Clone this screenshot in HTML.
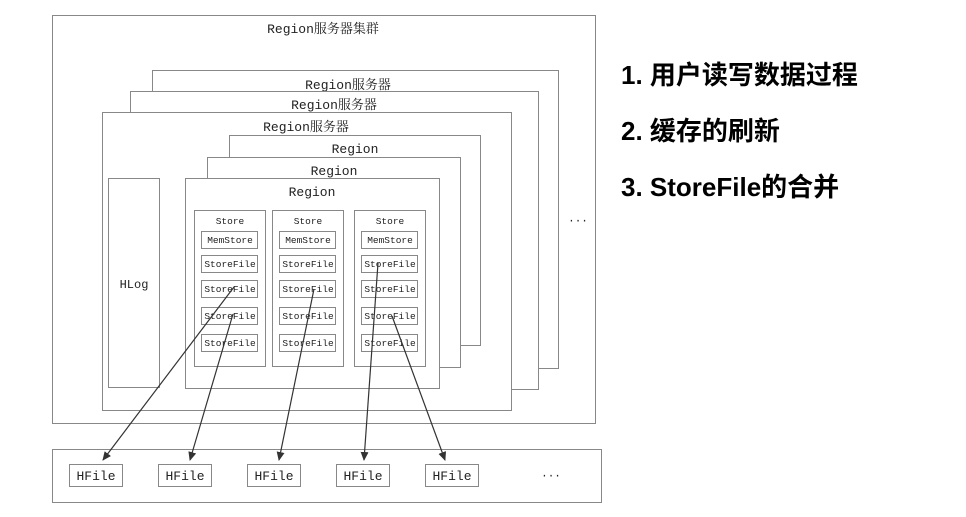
<!DOCTYPE html>
<html><head><meta charset="utf-8"><style>
html,body{margin:0;padding:0;background:#fff;width:966px;height:517px;overflow:hidden}
svg{display:block}
.d{font-family:"Liberation Mono","Noto Serif CJK SC",monospace;fill:#222}
.r{font-family:"Liberation Sans","Noto Sans CJK SC",sans-serif;font-weight:bold;font-size:26px;fill:#000}
rect{fill:#fff;stroke:#888;stroke-width:1}
.ln{stroke:#333;stroke-width:1.2;fill:none}
</style></head><body>
<svg width="966" height="517" viewBox="0 0 966 517" xmlns="http://www.w3.org/2000/svg">
<defs><marker id="a" markerWidth="10" markerHeight="10" refX="8" refY="4" orient="auto" markerUnits="userSpaceOnUse"><path d="M0,0 L9,4 L0,8 z" fill="#333"/></marker></defs>
<rect x="52.5" y="15.5" width="543" height="408"/>
<text class="d" x="323" y="33" font-size="13" text-anchor="middle">Region服务器集群</text>
<rect x="152.5" y="70.5" width="406" height="298"/>
<text class="d" x="348" y="89" font-size="13" text-anchor="middle">Region服务器</text>
<rect x="130.5" y="91.5" width="408" height="298"/>
<text class="d" x="334" y="109" font-size="13" text-anchor="middle">Region服务器</text>
<rect x="102.5" y="112.5" width="409" height="298"/>
<text class="d" x="306" y="131" font-size="13" text-anchor="middle">Region服务器</text>
<rect x="229.5" y="135.5" width="251" height="210"/>
<text class="d" x="355" y="153" font-size="13" text-anchor="middle">Region</text>
<rect x="207.5" y="157.5" width="253" height="210"/>
<text class="d" x="334" y="175" font-size="13" text-anchor="middle">Region</text>
<rect x="185.5" y="178.5" width="254" height="210"/>
<text class="d" x="312" y="196" font-size="13" text-anchor="middle">Region</text>
<rect x="108.5" y="178.5" width="51" height="209"/>
<text class="d" x="134" y="288" font-size="12" text-anchor="middle">HLog</text>
<text class="d" x="578" y="224" font-size="11" text-anchor="middle">···</text>
<g font-size="9.5" class="d" text-anchor="middle">
<rect x="194.5" y="210.5" width="71" height="156"/>
<rect x="272.5" y="210.5" width="71" height="156"/>
<rect x="354.5" y="210.5" width="71" height="156"/>
<text x="230" y="224">Store</text><text x="308" y="224">Store</text><text x="390" y="224">Store</text>
<rect x="201.5" y="231.5" width="56" height="17"/><rect x="279.5" y="231.5" width="56" height="17"/><rect x="361.5" y="231.5" width="56" height="17"/>
<text x="230" y="243">MemStore</text><text x="308" y="243">MemStore</text><text x="390" y="243">MemStore</text>
<rect x="201.5" y="255.5" width="56" height="17"/><rect x="279.5" y="255.5" width="56" height="17"/><rect x="361.5" y="255.5" width="56" height="17"/>
<text x="230" y="267">StoreFile</text><text x="308" y="267">StoreFile</text><text x="390" y="267">StoreFile</text>
<rect x="201.5" y="280.5" width="56" height="17"/><rect x="279.5" y="280.5" width="56" height="17"/><rect x="361.5" y="280.5" width="56" height="17"/>
<text x="230" y="292">StoreFile</text><text x="308" y="292">StoreFile</text><text x="390" y="292">StoreFile</text>
<rect x="201.5" y="307.5" width="56" height="17"/><rect x="279.5" y="307.5" width="56" height="17"/><rect x="361.5" y="307.5" width="56" height="17"/>
<text x="230" y="319">StoreFile</text><text x="308" y="319">StoreFile</text><text x="390" y="319">StoreFile</text>
<rect x="201.5" y="334.5" width="56" height="17"/><rect x="279.5" y="334.5" width="56" height="17"/><rect x="361.5" y="334.5" width="56" height="17"/>
<text x="230" y="346">StoreFile</text><text x="308" y="346">StoreFile</text><text x="390" y="346">StoreFile</text>
</g>
<rect x="52.5" y="449.5" width="549" height="53"/>
<g class="d" font-size="13" text-anchor="middle">
<rect x="69.5" y="464.5" width="53" height="22"/><text x="96" y="480">HFile</text>
<rect x="158.5" y="464.5" width="53" height="22"/><text x="185" y="480">HFile</text>
<rect x="247.5" y="464.5" width="53" height="22"/><text x="274" y="480">HFile</text>
<rect x="336.5" y="464.5" width="53" height="22"/><text x="363" y="480">HFile</text>
<rect x="425.5" y="464.5" width="53" height="22"/><text x="452" y="480">HFile</text>
<text x="551" y="479" font-size="11">···</text>
</g>
<g class="ln" marker-end="url(#a)">
<line x1="234" y1="287" x2="103" y2="460"/>
<line x1="233" y1="314" x2="190" y2="460"/>
<line x1="314" y1="289" x2="279" y2="460"/>
<line x1="378" y1="263" x2="364" y2="460"/>
<line x1="392" y1="316" x2="445" y2="460"/>
</g>
<text class="r" x="621" y="84">1. 用户读写数据过程</text>
<text class="r" x="621" y="140">2. 缓存的刷新</text>
<text class="r" x="621" y="196">3. StoreFile的合并</text>
</svg>
</body></html>
